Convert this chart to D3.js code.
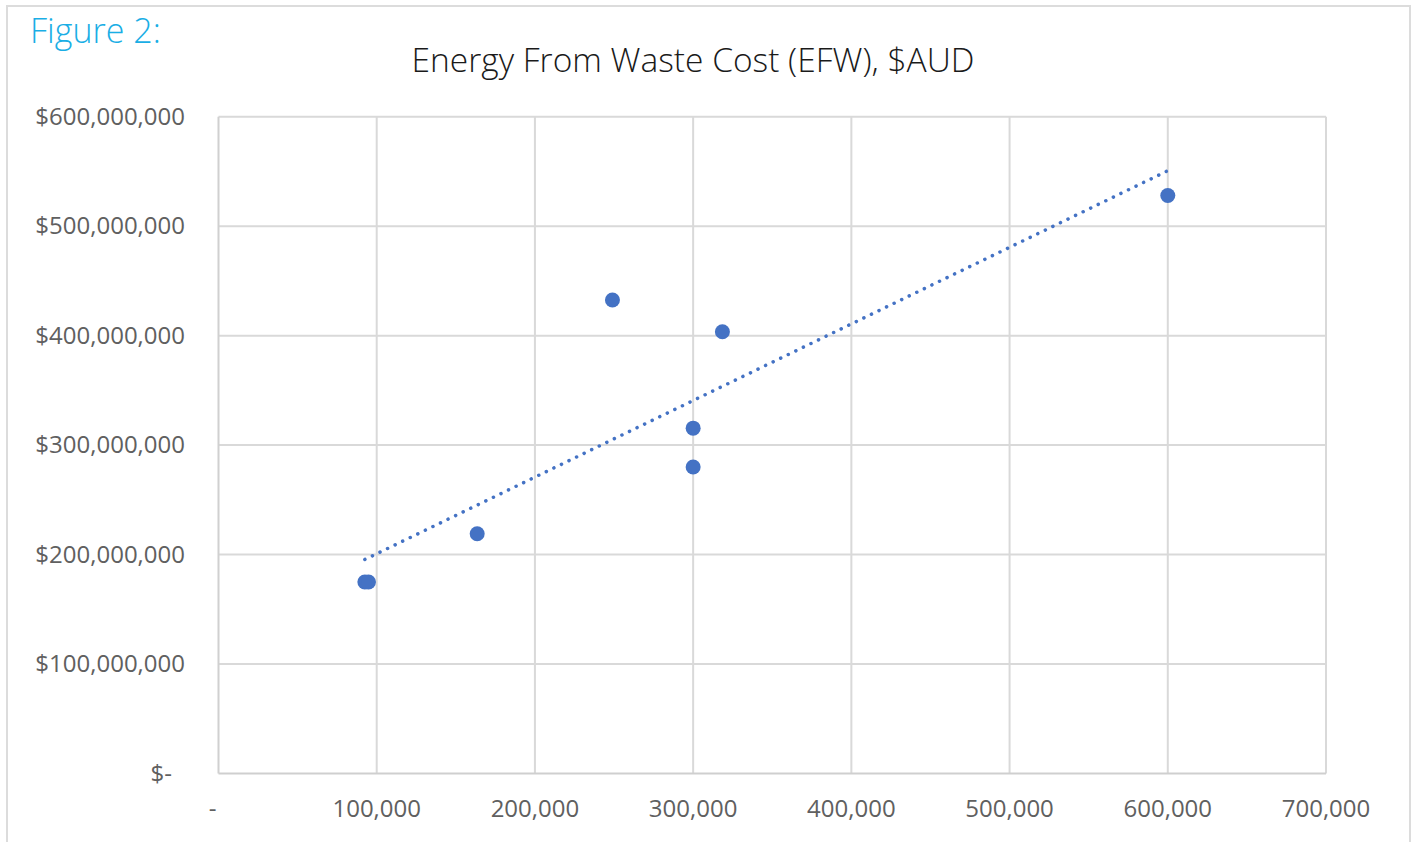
<!DOCTYPE html>
<html>
<head>
<meta charset="utf-8">
<script src="https://cdn.jsdelivr.net/npm/d3@7"></script>
<style>
  body { margin:0; background:#fff; }
  text { font-family: "Open Sans", sans-serif; }
</style>
</head>
<body>
<div class="canvas"></div>
<script>
// data
const capacity = [92500, 94800, 163500, 249000, 318500, 300000, 300000, 600000];   // tonnes / yr
const cost     = [175e6, 175e6, 219e6, 432.5e6, 403.5e6, 315.5e6, 280e6, 528e6];   // $AUD
const xTicks = [0, 100000, 200000, 300000, 400000, 500000, 600000, 700000];
const yTicks = [0, 1e8, 2e8, 3e8, 4e8, 5e8, 6e8];

const dim = { width: 1413, height: 842 };
const plot = { left: 218.5, right: 1326, top: 116.7, bottom: 773.5 };

const svg = d3.select(".canvas").append("svg")
  .attr("width", dim.width).attr("height", dim.height);

// outer frame
svg.append("rect").attr("x", 7).attr("y", 6).attr("width", 1403).attr("height", 900)
  .attr("fill", "none").attr("stroke", "#dcdcdc").attr("stroke-width", 2);

const x = d3.scaleLinear().domain([0, 700000]).range([plot.left, plot.right]);
const y = d3.scaleLinear().domain([0, 6e8]).range([plot.bottom, plot.top]);

const grid = svg.append("g");
grid.selectAll(".vg").data(xTicks.slice(1)).join("line")
  .attr("x1", d => x(d)).attr("x2", d => x(d))
  .attr("y1", plot.top).attr("y2", plot.bottom)
  .attr("stroke", "#d9d9d9").attr("stroke-width", 2);
grid.selectAll(".hg").data(yTicks.slice(1)).join("line")
  .attr("x1", plot.left).attr("x2", plot.right)
  .attr("y1", d => y(d)).attr("y2", d => y(d))
  .attr("stroke", "#d9d9d9").attr("stroke-width", 2);
// left + bottom axis lines
svg.append("line").attr("x1", plot.left).attr("x2", plot.left)
  .attr("y1", plot.top).attr("y2", plot.bottom).attr("stroke", "#d0d0d0").attr("stroke-width", 2);
svg.append("line").attr("x1", plot.left).attr("x2", plot.right)
  .attr("y1", plot.bottom).attr("y2", plot.bottom).attr("stroke", "#cfcfcf").attr("stroke-width", 2);

// tick labels
const fmt = d3.format(",");
svg.selectAll(".xl").data(xTicks).join("text")
  .attr("x", d => d === 0 ? x(d) - 6 : x(d))
  .attr("y", 817)
  .attr("text-anchor", "middle")
  .attr("font-size", 24).attr("fill", "#606060")
  .text(d => d === 0 ? "-" : fmt(d));
svg.selectAll(".yl").data(yTicks).join("text")
  .attr("x", d => d === 0 ? 172 : 185)
  .attr("y", d => y(d) + 8)
  .attr("text-anchor", "end")
  .attr("font-size", 24).attr("fill", "#606060")
  .text(d => d === 0 ? "$-" : "$" + fmt(d));

// linear trendline (least squares), spanning the data
const pts = capacity.map((c, i) => [c, cost[i]]);
const mx = d3.mean(capacity), my = d3.mean(cost);
const slope = d3.sum(pts, p => (p[0] - mx) * (p[1] - my)) / d3.sum(pts, p => (p[0] - mx) ** 2);
const icpt = my - slope * mx;
const ext = d3.extent(capacity);
svg.append("line")
  .attr("x1", x(ext[0])).attr("y1", y(icpt + slope * ext[0]))
  .attr("x2", x(ext[1])).attr("y2", y(icpt + slope * ext[1]))
  .attr("stroke", "#4472C4").attr("stroke-width", 3.5)
  .attr("stroke-linecap", "round").attr("stroke-dasharray", "0.1 8.3");

// points
svg.selectAll(".pt").data(pts).join("circle")
  .attr("cx", d => x(d[0])).attr("cy", d => y(d[1])).attr("r", 7.5)
  .attr("fill", "#4472C4");

// titles
svg.append("text").attr("x", 30).attr("y", 43)
  .attr("font-size", 34).attr("font-weight", 300).attr("fill", "#1aaee5")
  .text("Figure 2:");
svg.append("text").attr("x", 693).attr("y", 72).attr("text-anchor", "middle")
  .attr("font-size", 33.5).attr("font-weight", 300).attr("fill", "#1a1a1a")
  .text("Energy From Waste Cost (EFW), $AUD");
</script>
</body>
</html>
